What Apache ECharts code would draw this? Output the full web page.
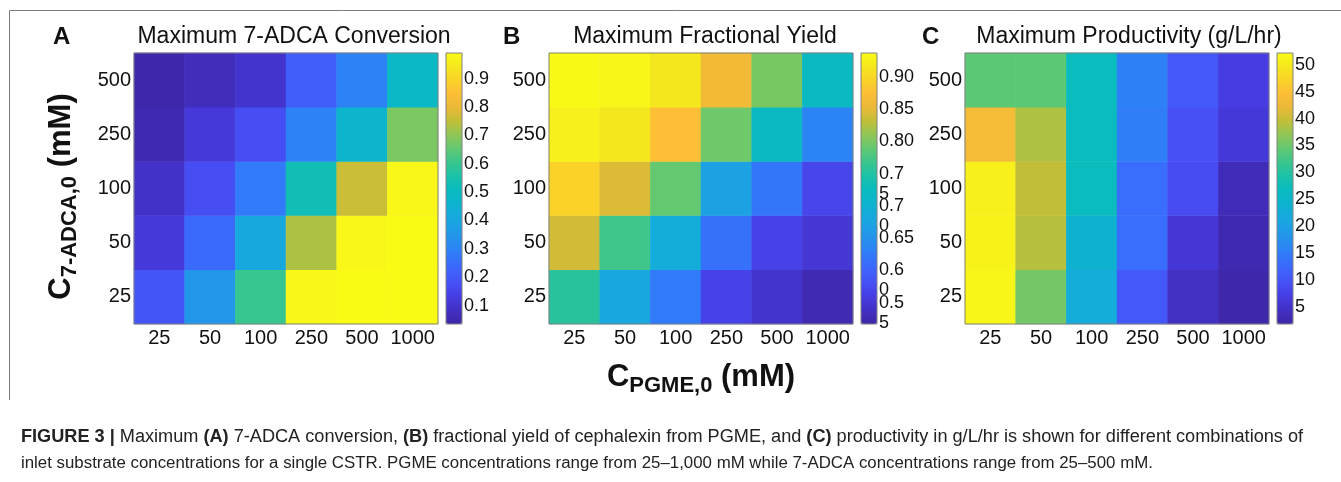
<!DOCTYPE html>
<html><head><meta charset="utf-8">
<script src="https://cdn.jsdelivr.net/npm/echarts@6/dist/echarts.min.js"></script>
<style>html,body{margin:0;padding:0;background:#fff}#c{width:1341px;height:482px}</style>
</head><body><div id="c"></div>
<script>
// ---------- data ----------
const pgmeCats = ['25', '50', '100', '250', '500', '1000'];   // x (C_PGME,0, mM)
const adcaCats = ['25', '50', '100', '250', '500'];            // y (C_7-ADCA,0, mM), bottom -> top

// rows follow adcaCats (25 ... 500), columns follow pgmeCats
const conversionA = [
  [0.19, 0.35, 0.60, 0.98, 0.99, 0.99],
  [0.12, 0.24, 0.41, 0.73, 0.98, 0.99],
  [0.09, 0.17, 0.28, 0.53, 0.76, 0.98],
  [0.05, 0.12, 0.17, 0.30, 0.47, 0.68],
  [0.04, 0.07, 0.10, 0.21, 0.30, 0.49]
];
const yieldB = [
  [0.755, 0.68, 0.625, 0.565, 0.545, 0.525],
  [0.84, 0.77, 0.69, 0.615, 0.565, 0.55],
  [0.895, 0.845, 0.79, 0.67, 0.62, 0.57],
  [0.925, 0.915, 0.875, 0.795, 0.72, 0.635],
  [0.935, 0.93, 0.915, 0.862, 0.80, 0.72]
];
const productivityC = [
  [51.5, 35.5, 22.5, 10.4, 4.3, 2.0],
  [51.2, 39.0, 24.0, 13.0, 5.8, 2.5],
  [50.7, 39.6, 27.0, 13.0, 8.9, 3.3],
  [43.6, 38.6, 27.0, 15.0, 9.4, 6.1],
  [34.0, 34.0, 27.0, 15.4, 10.4, 6.8]
];

// colour-bar limits and tick labels
const rangeA = [0.035, 0.99];
const rangeB = [0.517, 0.937];
const rangeC = [1.8, 52.2];
const ticksA = [0.1, 0.2, 0.3, 0.4, 0.5, 0.6, 0.7, 0.8, 0.9];
const tickTextA = ['0.1', '0.2', '0.3', '0.4', '0.5', '0.6', '0.7', '0.8', '0.9'];
const ticksB = [0.55, 0.60, 0.65, 0.70, 0.75, 0.80, 0.85, 0.90];
const tickTextB = ['0.5\n5', '0.6\n0', '0.65', '0.7\n0', '0.7\n5', '0.80', '0.85', '0.90'];
const ticksC = [5, 10, 15, 20, 25, 30, 35, 40, 45, 50];
const tickTextC = ['5', '10', '15', '20', '25', '30', '35', '40', '45', '50'];

const titles = ['Maximum 7-ADCA Conversion', 'Maximum Fractional Yield', 'Maximum Productivity (g/L/hr)'];
const letters = ['A', 'B', 'C'];

// parula-like colormap
const parula = ['#3E26A8', '#4230C3', '#463CE1', '#4650F5', '#3E64FC', '#3278FA', '#288CF0', '#1E9EE6',
  '#16AADC', '#0CB4CD', '#0ABCBE', '#1EC2A5', '#3CC68C', '#64C870', '#91C655', '#C3BE37', '#EBB937',
  '#FCBE37', '#FAD228', '#F5E81E', '#F9FB15'];

// ---------- layout ----------
const FONT = 'Liberation Sans, Arial, sans-serif';
const plotTop = 53, plotH = 271, plotW = 304, cbW = 16;
const panels = [
  { data: conversionA, range: rangeA, ticks: ticksA, text: tickTextA, gx: 134, cbx: 446, letterX: 62, titleX: 294 },
  { data: yieldB, range: rangeB, ticks: ticksB, text: tickTextB, gx: 549, cbx: 861, letterX: 512, titleX: 705 },
  { data: productivityC, range: rangeC, ticks: ticksC, text: tickTextC, gx: 965, cbx: 1277, letterX: 931, titleX: 1129 }
];

const grid = [], xAxis = [], yAxis = [], series = [], visualMap = [], graphic = [];
const nameRich = {
  big: { fontSize: 31, fontWeight: 'bold', lineHeight: 40, fontFamily: FONT, color: '#111' },
  sub: { fontSize: 22, fontWeight: 'bold', verticalAlign: 'bottom', fontFamily: FONT, color: '#111' }
};

panels.forEach((p, i) => {
  const hg = grid.length;
  grid.push({ left: p.gx, top: plotTop, width: plotW, height: plotH, show: true, z: 10,
    borderColor: '#808080', borderWidth: 1, backgroundColor: 'transparent' });
  grid.push({ left: p.cbx, top: plotTop, width: cbW, height: plotH, show: true, z: 10,
    borderColor: '#808080', borderWidth: 1, backgroundColor: 'transparent' });

  const xa = {
    type: 'category', data: pgmeCats, gridIndex: hg,
    axisLine: { show: false }, axisTick: { show: false }, splitLine: { show: false },
    axisLabel: { interval: 0, fontSize: 20, color: '#111', margin: 4, fontFamily: FONT }
  };
  if (i === 1) {
    Object.assign(xa, {
      name: '{big|C}{sub|PGME,0}{big| (mM)}', nameLocation: 'middle', nameGap: 33,
      nameTextStyle: { fontFamily: FONT, color: '#111', rich: nameRich }
    });
  }
  const hx = xAxis.length;
  xAxis.push(xa);

  const ya = {
    type: 'category', data: adcaCats, gridIndex: hg,
    axisLine: { show: false }, axisTick: { show: false }, splitLine: { show: false },
    axisLabel: { interval: 0, fontSize: 20, color: '#111', margin: 3, fontFamily: FONT }
  };
  if (i === 0) {
    Object.assign(ya, {
      name: '{big|C}{sub|7-ADCA,0}{big| (mM)}', nameLocation: 'middle', nameRotate: 90, nameGap: 53,
      nameTextStyle: { fontFamily: FONT, color: '#111', rich: nameRich, padding: [0, 16, 0, 0] }
    });
  }
  const hy = yAxis.length;
  yAxis.push(ya);

  // colour-bar axes: ticks split over two overlapping value axes so no label is dropped
  xAxis.push({ type: 'category', data: [''], gridIndex: hg + 1, show: false });
  [0, 1].forEach(par => {
    const vals = p.ticks.filter((t, k) => k % 2 === par);
    yAxis.push({
      type: 'value', gridIndex: hg + 1, position: 'right', offset: 0, min: p.range[0], max: p.range[1],
      axisLine: { show: false }, splitLine: { show: false },
      axisTick: { show: true, inside: true, length: 3, lineStyle: { color: '#444' }, customValues: vals },
      axisLabel: {
        show: true, showMinLabel: true, showMaxLabel: true, hideOverlap: false,
        fontSize: 18, color: '#111', margin: 2, fontFamily: FONT, lineHeight: 20,
        customValues: vals,
        formatter: (v) => {
          const k = p.ticks.findIndex(t => Math.abs(t - v) < 1e-6);
          const s = k >= 0 ? p.text[k] : '';
          return s.indexOf('\n') >= 0 ? ' \n' + s : s;
        }
      }
    });
  });

  const d = [];
  p.data.forEach((row, yi) => row.forEach((v, xi) => d.push([xi, yi, v])));
  series.push({
    type: 'heatmap', xAxisIndex: hx, yAxisIndex: hy, data: d,
    itemStyle: { borderWidth: 0 }, emphasis: { disabled: true }, progressive: 0, animation: false
  });

  visualMap.push({
    type: 'continuous', seriesIndex: i, min: p.range[0], max: p.range[1],
    calculable: false, hoverLink: false, realtime: false, orient: 'vertical',
    left: p.cbx, top: plotTop, itemWidth: cbW, itemHeight: plotH, padding: 0,
    text: null, showLabel: false, inRange: { color: parula }
  });

  graphic.push({ type: 'text', left: p.letterX - 9, top: 25,
    style: { text: letters[i], fontSize: 24, fontWeight: 'bold', fontFamily: FONT, fill: '#111' } });
  graphic.push({ type: 'text', x: p.titleX, y: 37,
    style: { text: titles[i], fontSize: 23, fontFamily: FONT, fill: '#111', align: 'center', verticalAlign: 'middle' } });
});

// frame
graphic.push({ type: 'line', shape: { x1: 9.5, y1: 10.5, x2: 1341, y2: 10.5 }, style: { stroke: '#7a7a7a', lineWidth: 1 } });
graphic.push({ type: 'line', shape: { x1: 9.5, y1: 10.5, x2: 9.5, y2: 400 }, style: { stroke: '#7a7a7a', lineWidth: 1 } });

// caption
const capRich = {
  b: { fontWeight: 'bold', fontSize: 18.15, fontFamily: FONT, fill: '#222' },
  n: { fontSize: 18.15, fontFamily: FONT, fill: '#222' }
};
graphic.push({ type: 'text', x: 21, y: 437, style: {
  text: '{b|FIGURE 3 |}{n| Maximum }{b|(A)}{n| 7-ADCA conversion, }{b|(B)}{n| fractional yield of cephalexin from PGME, and }{b|(C)}{n| productivity in g/L/hr is shown for different combinations of}',
  rich: capRich, verticalAlign: 'middle', fontSize: 18.15, fontFamily: FONT, fill: '#222' } });
graphic.push({ type: 'text', x: 21, y: 463, style: {
  text: 'inlet substrate concentrations for a single CSTR. PGME concentrations range from 25–1,000 mM while 7-ADCA concentrations range from 25–500 mM.',
  verticalAlign: 'middle', fontSize: 16.85, fontFamily: FONT, fill: '#222' } });

const chart = echarts.init(document.getElementById('c'));
chart.setOption({
  animation: false, backgroundColor: '#fff',
  textStyle: { fontFamily: FONT },
  grid, xAxis, yAxis, series, visualMap, graphic
});
</script></body></html>
